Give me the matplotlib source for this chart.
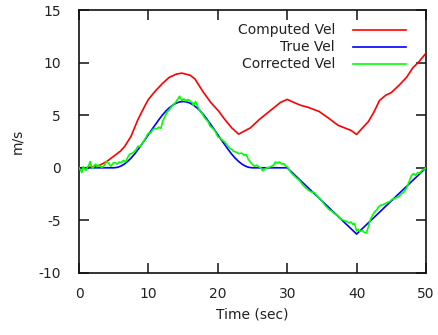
import matplotlib
matplotlib.use("Agg")
import matplotlib.pyplot as plt

# ---- data ----
t_true = [0, 5, 5.5, 6, 6.5, 7, 7.5, 8, 8.5, 9, 9.5, 10, 10.5, 11, 11.5, 12,
          12.5, 13, 13.5, 14, 14.5, 15, 15.5, 16, 16.5, 17, 17.5, 18, 18.5, 19,
          19.5, 20, 20.5, 21, 21.5, 22, 22.5, 23, 23.5, 24, 24.5, 25, 30, 40, 50]
v_true = [0, 0, 0.04, 0.15, 0.34, 0.6, 0.92, 1.3, 1.73, 2.2, 2.66, 3.15, 3.64,
          4.1, 4.57, 5.0, 5.38, 5.7, 5.96, 6.15, 6.26, 6.3, 6.26, 6.15, 5.96,
          5.7, 5.38, 5.0, 4.57, 4.1, 3.64, 3.15, 2.66, 2.2, 1.73, 1.3, 0.92,
          0.6, 0.34, 0.15, 0.04, 0, 0, -6.3, 0]

t_comp = [0, 1, 2, 3, 4, 5, 6, 6.6, 7.5, 8.5, 9.5, 10, 11, 12, 13, 14, 14.8, 16,
          16.7, 17.9, 19, 20.1, 21, 22, 23, 24.7, 26, 27.5, 29, 30, 31, 31.9,
          33, 34.6, 36, 37.3, 39.2, 40, 41, 41.7, 42.5, 43.3, 44.2, 45, 46.2,
          47.2, 48.1, 49, 50]
v_comp = [0, 0.0, 0.1, 0.25, 0.6, 1.1, 1.6, 2.05, 3.0, 4.6, 5.9, 6.5, 7.3, 8.0,
          8.6, 8.9, 9.0, 8.8, 8.45, 7.2, 6.2, 5.4, 4.6, 3.8, 3.2, 3.8, 4.6, 5.4,
          6.2, 6.5, 6.2, 5.95, 5.75, 5.35, 4.7, 4.05, 3.55, 3.17, 3.9, 4.4,
          5.3, 6.4, 6.9, 7.15, 7.9, 8.6, 9.5, 10.1, 10.9]

t_corr = [0, 0.2, 0.4, 0.6, 0.8, 1.0, 1.2, 1.4, 1.6, 1.8, 2.0, 2.2, 2.4, 2.6,
          2.8, 3.0, 3.3, 3.6, 4.0, 4.3, 4.6, 4.9, 5.2, 5.5, 5.8, 6.1, 6.4, 6.7,
          7.0, 7.3, 7.6, 7.9, 8.2, 8.5, 8.8, 9.1, 9.4, 9.7, 10.0, 10.3, 10.6,
          10.9, 11.2, 11.5, 11.8, 12.1, 12.4, 12.7, 13.0, 13.3, 13.6, 13.9, 14.2,
          14.5, 14.8, 15.1, 15.4, 15.7, 16.0, 16.3, 16.5, 16.8, 17.1, 17.4, 17.7,
          18.0, 18.3, 18.6, 18.9, 19.2, 19.6, 20.0, 20.3, 20.7, 21.0, 21.4, 21.7,
          22.0, 22.3, 22.6, 23.0, 23.4, 23.8, 24.1, 24.4, 24.7, 25.0, 25.3, 25.6,
          25.9, 26.2, 26.5, 26.8, 27.1, 27.4, 27.8, 28.1, 28.3, 28.6, 28.9, 29.2,
          29.5, 29.8, 30.0, 30.3, 30.6, 31.0, 31.3, 31.6, 31.9, 32.2, 32.5, 32.9,
          33.2, 33.5, 33.9, 34.2, 34.6, 34.9, 35.2, 35.5, 35.8, 36.1, 36.4, 36.8,
          37.1, 37.4, 37.7, 38.0, 38.3, 38.6, 38.9, 39.2, 39.5, 39.7, 40.0, 40.2,
          40.5, 40.8, 41.1, 41.4, 41.7, 42.0, 42.3, 42.6, 42.9, 43.2, 43.5, 43.8,
          44.1, 44.4, 44.8, 45.1, 45.4, 45.8, 46.1, 46.4, 46.8, 47.1, 47.4, 47.7,
          47.9, 48.2, 48.5, 48.8, 49.1, 49.4, 49.7, 50.0]
v_corr = [0, -0.2, -0.45, 0.1, -0.1, -0.25, 0.05, 0.2, 0.6, 0.1, -0.05, 0.2,
          0.35, 0.1, 0.25, 0.15, 0.05, 0.2, 0.6, 0.4, 0.15, 0.45, 0.5, 0.35,
          0.55, 0.5, 0.7, 0.55, 0.95, 1.3, 1.35, 1.5, 1.7, 2.05, 2.0, 2.3, 2.6,
          2.95, 3.3, 3.3, 3.6, 3.75, 3.7, 3.85, 3.75, 4.5, 4.9, 5.3, 5.5, 5.8,
          6.0, 6.2, 6.5, 6.8, 6.4, 6.55, 6.35, 6.5, 6.35, 6.2, 5.95, 6.3, 5.85,
          5.4, 5.2, 4.85, 4.6, 4.4, 3.95, 3.8, 3.5, 2.95, 2.85, 2.6, 2.45, 2.1,
          1.85, 1.75, 1.55, 1.5, 1.35, 1.4, 1.2, 1.25, 0.8, 0.55, 0.3, 0.15,
          0.25, 0.1, 0.0, -0.3, -0.1, 0.0, 0.05, 0.15, 0.3, 0.55, 0.45, 0.55,
          0.35, 0.4, 0.15, 0.1, -0.2, -0.5, -0.75, -0.95, -1.1, -1.3, -1.6,
          -1.8, -2.05, -2.2, -2.3, -2.35, -2.6, -2.9, -3.05, -3.35, -3.6, -3.8,
          -4.0, -4.1, -4.35, -4.45, -4.65, -4.9, -4.95, -5.05, -5.1, -5.25,
          -5.15, -5.4, -5.3, -6.0, -5.85, -6.05, -5.95, -6.15, -6.2, -5.6, -4.9,
          -4.5, -4.2, -4.0, -3.7, -3.55, -3.5, -3.4, -3.3, -3.2, -3.0, -2.95,
          -2.8, -2.75, -2.5, -2.3, -2.05, -1.6, -1.1, -0.75, -0.55, -0.7, -0.45,
          -0.5, -0.25, -0.15, 0.0]

labels = ["Computed Vel", "True Vel", "Corrected Vel"]
colors = ["#ff0000", "#0000ff", "#00ff00"]
x_ticks = [0, 10, 20, 30, 40, 50]
y_ticks = [-10, -5, 0, 5, 10, 15]

# ---- figure ----
plt.rcParams['font.family'] = ['DejaVu Sans']
plt.rcParams['axes.unicode_minus'] = False
fig = plt.figure(figsize=(4.38, 3.35), dpi=100)
ax = fig.add_axes([79/438, 62/335, 347/438, 263/335])

series = [(t_comp, v_comp), (t_true, v_true), (t_corr, v_corr)]
for i, (t, v) in enumerate(series):
    ax.plot(t, v, color=colors[i], lw=1.2, zorder=3 + i)

ax.set_xlim(0, 50)
ax.set_ylim(-10, 15)
ax.set_xticks(x_ticks)
ax.set_yticks(y_ticks)
ax.tick_params(direction='in', length=7, width=1.2, top=True, right=True,
               labelsize=10, colors='#222222')
ax.tick_params(axis='y', pad=13)
ax.tick_params(axis='x', pad=10)
for s in ax.spines.values():
    s.set_linewidth(1.2)
    s.set_color('#111111')
ax.set_xlabel("Time (sec)", fontsize=10, color='#222222')
ax.set_ylabel("m/s", fontsize=10, color='#222222')
ax.xaxis.set_label_coords(0.5, (273 - 307) / 263)
ax.yaxis.set_label_coords((24 - 79) / 347, 0.5)

# legend (gnuplot-style: right-aligned text, sample line to the right)
rows_y = [30, 47, 64]
for lab, col, ry in zip(labels, colors, rows_y):
    yf = (335 - ry - 62) / 263
    ax.text((335 - 79) / 347, yf, lab, transform=ax.transAxes, ha='right',
            va='center', fontsize=10, color='#222222')
    ax.plot([(353 - 79) / 347, (406 - 79) / 347], [yf, yf], color=col, lw=1.2,
            transform=ax.transAxes, clip_on=False)

fig.savefig("out.png", dpi=100)
